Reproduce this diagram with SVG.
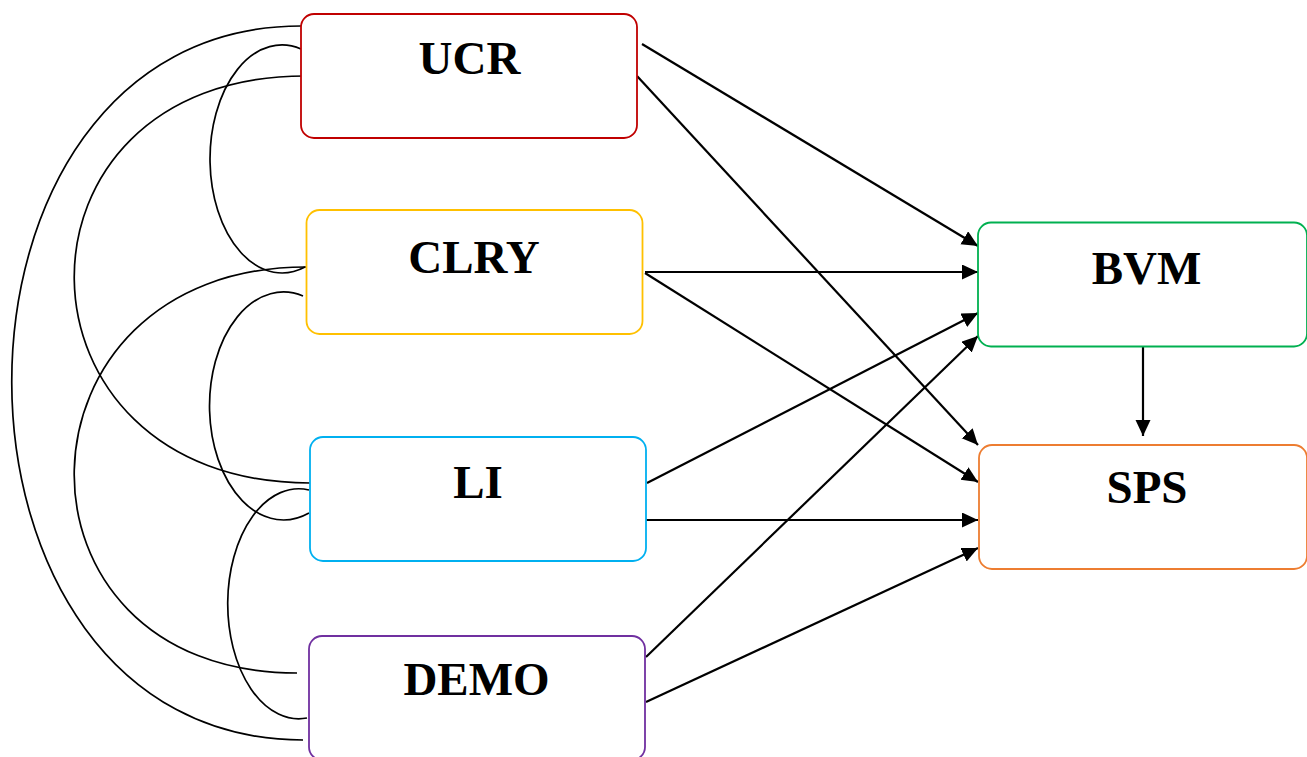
<svg xmlns="http://www.w3.org/2000/svg" width="1307" height="757" viewBox="0 0 1307 757">
<style>
.box{fill:#fff;stroke-width:1.8}
.lbl{font-family:"Liberation Serif","Times New Roman",serif;font-weight:bold;font-size:47px;text-anchor:middle;fill:#000}
.arr{stroke:#000;stroke-width:2.2;fill:none;marker-end:url(#ah)}
.cov{stroke:#000;stroke-width:1.7;fill:none}
</style>
<defs>
<marker id="ah" markerUnits="userSpaceOnUse" markerWidth="18" markerHeight="16" refX="16" refY="7.5" orient="auto">
<path d="M0,0 L16,7.5 L0,15 z" fill="#000"/>
</marker>
</defs>
<rect width="1307" height="757" fill="#fff"/>
<g id="connectors">
<path class="cov" d="M301,26 C-86,26 -84,740 303,740"/>
<path class="cov" d="M305,76 C-6,76 -1,483 310,483"/>
<path class="cov" d="M306,267 C3,267 -6,673 297,673"/>
<path class="cov" d="M301,49 A72,114 0 1 0 305,267"/>
<path class="cov" d="M303,296 A74,114 0 1 0 309,513"/>
<path class="cov" d="M309,490 A71,115 0 1 0 307,718"/>
<line class="arr" x1="642" y1="44" x2="978" y2="246"/>
<line class="arr" x1="637" y1="76" x2="978" y2="445"/>
<line class="arr" x1="645" y1="272" x2="978" y2="272"/>
<line class="arr" x1="645" y1="273" x2="978" y2="482"/>
<line class="arr" x1="647" y1="483" x2="978" y2="313"/>
<line class="arr" x1="644" y1="520" x2="978" y2="520"/>
<line class="arr" x1="646" y1="657" x2="978" y2="336"/>
<line class="arr" x1="646" y1="702" x2="978" y2="548"/>
<line class="arr" x1="1143" y1="346" x2="1143" y2="436"/>
</g>
<g id="node-UCR">
<rect class="box" x="301" y="14" width="336" height="124" rx="13" stroke="#C00000"/>
<text class="lbl" x="469.5" y="74">UCR</text>
</g>
<g id="node-CLRY">
<rect class="box" x="306.5" y="210" width="336" height="124" rx="13" stroke="#FFC000"/>
<text class="lbl" x="474" y="273">CLRY</text>
</g>
<g id="node-LI">
<rect class="box" x="310" y="437" width="336" height="124" rx="13" stroke="#00B0F0"/>
<text class="lbl" x="478" y="498">LI</text>
</g>
<g id="node-DEMO">
<rect class="box" x="309" y="636" width="336" height="124" rx="13" stroke="#7030A0"/>
<text class="lbl" x="476.5" y="695">DEMO</text>
</g>
<g id="node-BVM">
<rect class="box" x="978" y="222.5" width="329" height="124" rx="13" stroke="#00B050"/>
<text class="lbl" x="1146.5" y="284">BVM</text>
</g>
<g id="node-SPS">
<rect class="box" x="979" y="445" width="328" height="124" rx="13" stroke="#ED7D31"/>
<text class="lbl" x="1147" y="503">SPS</text>
</g>
</svg>
